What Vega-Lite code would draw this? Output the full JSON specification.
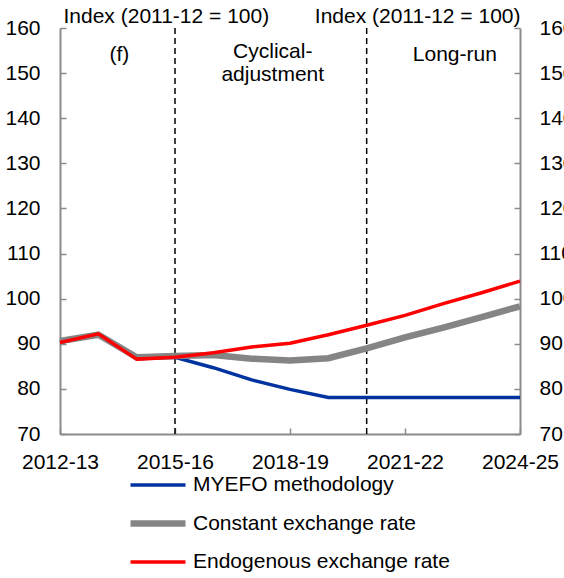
{
  "$schema": "https://vega.github.io/schema/vega-lite/v6.json",
  "width": 460,
  "height": 406,
  "autosize": {"type": "none"},
  "padding": {"left": 60, "top": 28, "right": 44, "bottom": 144},
  "background": "white",
  "config": {
    "font": "Liberation Sans",
    "view": {"stroke": null},
    "axis": {
      "grid": false,
      "domainColor": "#8c8c8c",
      "domainWidth": 2,
      "tickColor": "#8c8c8c",
      "tickWidth": 1.5,
      "tickSize": -6,
      "labelFontSize": 21,
      "labelColor": "black",
      "labelFont": "Liberation Sans",
      "titleFont": "Liberation Sans",
      "titleFontSize": 21,
      "titleFontWeight": "normal",
      "titleColor": "black"
    },
    "legend": {"labelFont": "Liberation Sans", "labelFontSize": 21, "labelColor": "black", "labelLimit": 400}
  },
  "datasets": {
    "series": [
      {"yr": 2012, "series": "MYEFO methodology", "value": 90.3},
      {"yr": 2013, "series": "MYEFO methodology", "value": 92.1},
      {"yr": 2014, "series": "MYEFO methodology", "value": 86.7},
      {"yr": 2015, "series": "MYEFO methodology", "value": 87.0},
      {"yr": 2016, "series": "MYEFO methodology", "value": 84.7},
      {"yr": 2017, "series": "MYEFO methodology", "value": 82.0},
      {"yr": 2018, "series": "MYEFO methodology", "value": 79.9},
      {"yr": 2019, "series": "MYEFO methodology", "value": 78.1},
      {"yr": 2020, "series": "MYEFO methodology", "value": 78.1},
      {"yr": 2021, "series": "MYEFO methodology", "value": 78.1},
      {"yr": 2022, "series": "MYEFO methodology", "value": 78.1},
      {"yr": 2023, "series": "MYEFO methodology", "value": 78.1},
      {"yr": 2024, "series": "MYEFO methodology", "value": 78.1},
      {"yr": 2012, "series": "Constant exchange rate", "value": 90.6},
      {"yr": 2013, "series": "Constant exchange rate", "value": 92.0},
      {"yr": 2014, "series": "Constant exchange rate", "value": 87.0},
      {"yr": 2015, "series": "Constant exchange rate", "value": 87.3},
      {"yr": 2016, "series": "Constant exchange rate", "value": 87.5},
      {"yr": 2017, "series": "Constant exchange rate", "value": 86.7},
      {"yr": 2018, "series": "Constant exchange rate", "value": 86.3},
      {"yr": 2019, "series": "Constant exchange rate", "value": 86.8},
      {"yr": 2020, "series": "Constant exchange rate", "value": 89.0},
      {"yr": 2021, "series": "Constant exchange rate", "value": 91.4},
      {"yr": 2022, "series": "Constant exchange rate", "value": 93.6},
      {"yr": 2023, "series": "Constant exchange rate", "value": 95.9},
      {"yr": 2024, "series": "Constant exchange rate", "value": 98.3},
      {"yr": 2012, "series": "Endogenous exchange rate", "value": 90.3},
      {"yr": 2013, "series": "Endogenous exchange rate", "value": 92.2},
      {"yr": 2014, "series": "Endogenous exchange rate", "value": 86.6},
      {"yr": 2015, "series": "Endogenous exchange rate", "value": 87.0},
      {"yr": 2016, "series": "Endogenous exchange rate", "value": 88.0},
      {"yr": 2017, "series": "Endogenous exchange rate", "value": 89.3},
      {"yr": 2018, "series": "Endogenous exchange rate", "value": 90.1},
      {"yr": 2019, "series": "Endogenous exchange rate", "value": 92.0},
      {"yr": 2020, "series": "Endogenous exchange rate", "value": 94.1},
      {"yr": 2021, "series": "Endogenous exchange rate", "value": 96.3},
      {"yr": 2022, "series": "Endogenous exchange rate", "value": 98.9},
      {"yr": 2023, "series": "Endogenous exchange rate", "value": 101.3},
      {"yr": 2024, "series": "Endogenous exchange rate", "value": 103.9}
    ],
    "rules": [{"yr": 2015}, {"yr": 2020}],
    "notes": [
      {"yr": 2013.55, "y": 154.0, "label": "(f)"},
      {"yr": 2017.55, "y": 154.6, "label": "Cyclical-"},
      {"yr": 2017.55, "y": 149.6, "label": "adjustment"},
      {"yr": 2022.3, "y": 154.0, "label": "Long-run"}
    ]
  },
  "layer": [
    {
      "data": {"name": "rules"},
      "mark": {"type": "rule", "color": "black", "strokeWidth": 1.5, "strokeDash": [6, 4]},
      "encoding": {
        "x": {"field": "yr", "type": "quantitative", "scale": {"domain": [2012, 2024], "nice": false, "zero": false}}
      }
    },
    {
      "data": {"name": "series"},
      "mark": {"type": "line", "strokeCap": "butt", "strokeJoin": "miter"},
      "encoding": {
        "x": {
          "field": "yr", "type": "quantitative",
          "scale": {"domain": [2012, 2024], "nice": false, "zero": false},
          "axis": {
            "title": null,
            "values": [2012, 2015, 2018, 2021, 2024],
            "labelExpr": "datum.value + '-' + substring(toString(datum.value + 1), 2)",
            "labelPadding": 23,
            "labelOverlap": false,
            "labelFlush": false
          }
        },
        "y": {
          "field": "value", "type": "quantitative",
          "scale": {"domain": [70, 160], "nice": false, "zero": false},
          "axis": {
            "orient": "left",
            "values": [70, 80, 90, 100, 110, 120, 130, 140, 150, 160],
            "title": "Index (2011-12 = 100)",
            "titleAngle": 0,
            "titleAlign": "left",
            "titleBaseline": "alphabetic",
            "titleX": 3,
            "titleY": -6,
            "labelPadding": 26
          }
        },
        "color": {
          "field": "series", "type": "nominal",
          "scale": {
            "domain": ["MYEFO methodology", "Constant exchange rate", "Endogenous exchange rate"],
            "range": ["#0033a0", "#858585", "#ff0000"]
          },
          "legend": {
            "title": null,
            "orient": "none",
            "legendX": 67,
            "legendY": 445,
            "direction": "vertical",
            "symbolType": "stroke",
            "symbolSize": 3025,
            "clipHeight": 24,
            "rowPadding": 14.5,
            "labelOffset": 4
          }
        },
        "strokeWidth": {
          "field": "series", "type": "nominal",
          "scale": {
            "type": "ordinal",
            "domain": ["MYEFO methodology", "Constant exchange rate", "Endogenous exchange rate"],
            "range": [3.5, 6.5, 3.5]
          },
          "legend": null
        }
      }
    },
    {
      "data": {"name": "notes"},
      "mark": {"type": "text", "fontSize": 21, "font": "Liberation Sans", "color": "black", "align": "center", "baseline": "middle"},
      "encoding": {
        "x": {"field": "yr", "type": "quantitative", "scale": {"domain": [2012, 2024], "nice": false, "zero": false}},
        "y": {
          "field": "y", "type": "quantitative",
          "scale": {"domain": [70, 160], "nice": false, "zero": false},
          "axis": {
            "orient": "right",
            "values": [70, 80, 90, 100, 110, 120, 130, 140, 150, 160],
            "title": "Index (2011-12 = 100)",
            "titleAngle": 0,
            "titleAlign": "right",
            "titleBaseline": "alphabetic",
            "titleX": 0,
            "titleY": -6,
            "labelPadding": 25
          }
        },
        "text": {"field": "label"}
      }
    }
  ],
  "resolve": {"scale": {"y": "independent"}}
}
